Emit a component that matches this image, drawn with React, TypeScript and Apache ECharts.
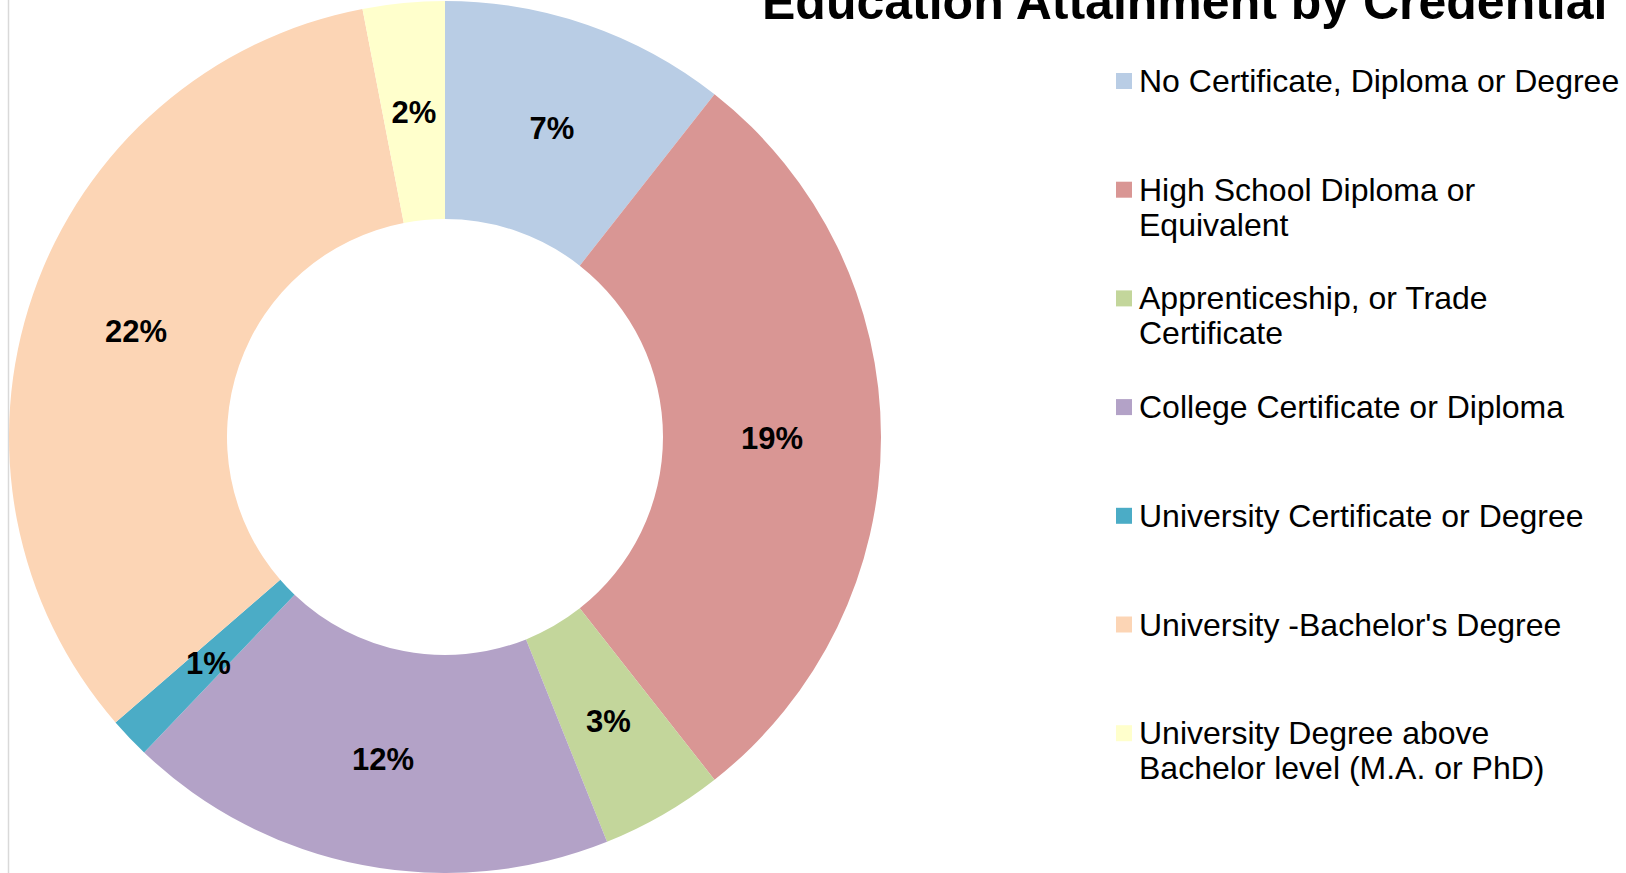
import React, { useEffect, useRef } from "react";
import * as echarts from "echarts";

const titleText = "Education Attainment by Credential";

const categories = [
  "No Certificate, Diploma or Degree",
  "High School Diploma or Equivalent",
  "Apprenticeship, or Trade Certificate",
  "College Certificate or Diploma",
  "University Certificate or Degree",
  "University -Bachelor's Degree",
  "University Degree above Bachelor level (M.A. or PhD)",
];

const legendLines = [
  ["No Certificate, Diploma or Degree"],
  ["High School Diploma or", "Equivalent"],
  ["Apprenticeship, or Trade", "Certificate"],
  ["College Certificate or Diploma"],
  ["University Certificate or Degree"],
  ["University -Bachelor's Degree"],
  ["University Degree above", "Bachelor level (M.A. or PhD)"],
];

const values = [7, 19, 3, 12, 1, 22, 2];

const colors = ["#B9CDE5", "#D99694", "#C3D69B", "#B3A2C7", "#4BACC6", "#FCD5B5", "#FFFFCC"];

const FONT = "'Liberation Sans', Arial, sans-serif";
const LINE_H = 35;
const CX = 445;
const CY = 437;

// Each legend entry is laid out as a 3-line block whose middle line sits on the icon,
// so that the first text line of every entry is level with its colour square.
function legendText(i: number): string {
  const lines = legendLines[i];
  return lines.length === 1 ? "\n" + lines[0] + "\n" : "\n" + lines.join("\n");
}

export default function App() {
  const ref = useRef<HTMLDivElement>(null);

  useEffect(() => {
    if (!ref.current) return;
    const chart = echarts.init(ref.current, undefined, { renderer: "svg" });
    const option: any = {
      animation: false,
      backgroundColor: "#ffffff",
      title: {
        text: titleText,
        left: 762,
        top: -23,
        padding: 0,
        textStyle: {
          fontFamily: FONT,
          fontSize: 50,
          fontWeight: "bold",
          color: "#000000",
          lineHeight: 50,
        },
      },
      legend: {
        orient: "vertical",
        left: 1116,
        top: 28.5,
        padding: 0,
        itemGap: 3.7,
        itemWidth: 16,
        itemHeight: 16,
        icon: "rect",
        selectedMode: false,
        formatter: (name: string) => legendText(categories.indexOf(name)),
        textStyle: {
          fontFamily: FONT,
          fontSize: 32,
          color: "#000000",
          lineHeight: LINE_H,
          padding: [0, 0, 0, 2],
        },
        data: categories,
      },
      graphic: [
        {
          type: "line",
          shape: { x1: 8.5, y1: 0, x2: 8.5, y2: 873 },
          style: { stroke: "#D9D9D9", lineWidth: 1.5 },
          silent: true,
        },
      ],
      series: [
        {
          type: "pie",
          center: [CX, CY],
          radius: [218, 436],
          startAngle: 90,
          clockwise: true,
          avoidLabelOverlap: false,
          color: colors,
          itemStyle: { borderWidth: 0 },
          emphasis: { disabled: true },
          label: {
            show: true,
            position: "inside",
            formatter: "{c}%",
            fontFamily: FONT,
            fontSize: 31,
            fontWeight: "bold",
            color: "#000000",
          },
          labelLayout: (params: any) => {
            const r = params.labelRect;
            const lx = r.x + r.width / 2;
            const ly = r.y + r.height / 2;
            const dx = lx - CX;
            const dy = ly - CY;
            const d = Math.hypot(dx, dy) || 1;
            const k = (d - 3) / d;
            return { x: CX + dx * k, y: CY + dy * k + 1 };
          },
          labelLine: { show: false },
          data: categories.map((name, i) => ({ name, value: values[i] })),
        },
      ],
    };
    chart.setOption(option);
    return () => chart.dispose();
  }, []);

  return (
    <div
      ref={ref}
      style={{ position: "fixed", left: 0, top: 0, width: 1626, height: 873 }}
    />
  );
}
